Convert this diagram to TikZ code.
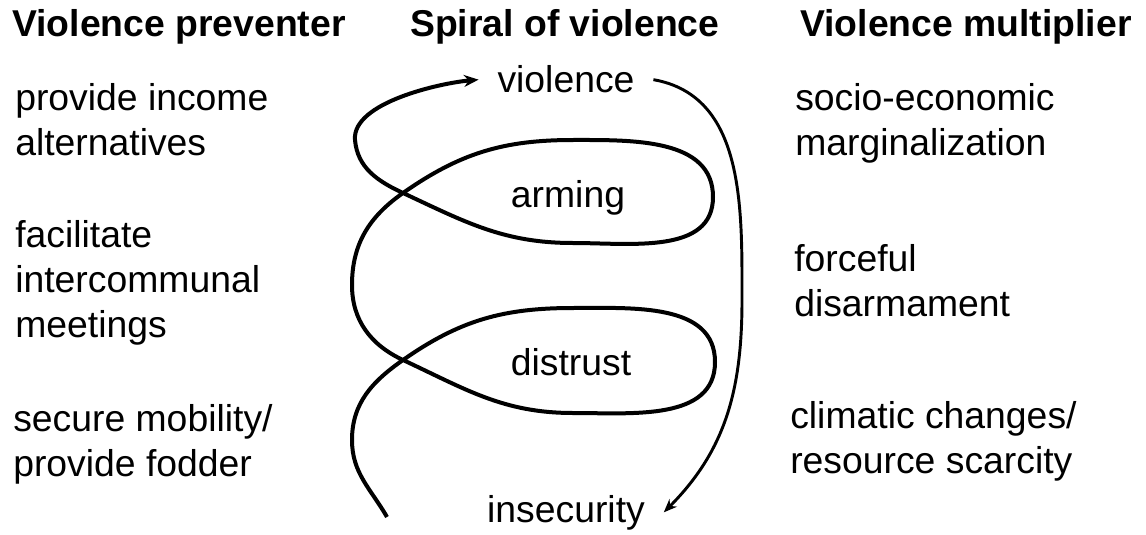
\documentclass[tikz,border=0pt]{standalone}
\usepackage{fontspec}
\setmainfont{Liberation Sans}
\usepackage{tikz}
\usetikzlibrary{arrows.meta, positioning}

\tikzset{
  txt/.style={anchor=base west, align=left, inner sep=0pt, font=\fontsize{28}{33.75}\selectfont},
  head/.style={txt, font=\fontsize{28}{33.75}\selectfont\bfseries},
  stage/.style={anchor=base, inner ysep=0pt, inner xsep=14pt, font=\fontsize{28}{33.75}\selectfont},
  spiral/.style={line width=3pt, -{Stealth[length=11pt,width=9pt]}},
  feed/.style={line width=2.2pt, -{Stealth[length=10pt,width=8pt]}}
}

\begin{document}
\begin{tikzpicture}[x=0.75pt,y=0.75pt]
	\useasboundingbox (0,0) rectangle (1146,-535);
	% column heads
	\node[head] (hprev) at (12,-37)  {Violence preventer};
	\node[head] (hspir) at (410,-37) {Spiral of violence};
	\node[head] (hmult) at (800,-37) {Violence multiplier};
	% preventers (placed at the baseline of their last line)
	\node[txt] (income)   at (15,-155) {provide income\\alternatives};
	\node[txt] (meetings) at (15,-337) {facilitate\\intercommunal\\meetings};
	\node[txt] (mobility) at (13,-476) {secure mobility/\\provide fodder};
	% multipliers
	\node[txt] (margin)  at (795,-155) {socio-economic\\marginalization};
	\node[txt] (disarm)  at (794,-316) {forceful\\disarmament};
	\node[txt] (climate) at (790,-473) {climatic changes/\\resource scarcity};
	% spiral stages
	\node[stage] (violence)   at (566,-93)  {violence};
	\node[stage] (arming)     at (568,-207) {arming};
	\node[stage] (distrust)   at (571,-375) {distrust};
	\node[stage] (insecurity) at (566,-522) {insecurity};
	% the spiral, from the bottom up
	\coordinate (sbot) at (387,-517);
	\coordinate (cro1) at (403,-360);
	\coordinate (cro2) at (403,-193);
	\draw[spiral] (sbot) to[out=120,in=-90] (352,-440) to[out=90,in=215] (cro1)
		to[out=35,in=180] (573,-308) to[out=0,in=90] (715,-362)
		to[out=-90,in=0] (573,-413) to[out=180,in=-25] (cro1)
		to[out=155,in=-90] (352,-285) to[out=90,in=215] (cro2)
		to[out=35,in=180] (573,-140) to[out=0,in=90] (713,-197)
		to[out=-90,in=0] (573,-243) to[out=180,in=-25] (cro2)
		to[out=155,in=-85] (355,-140) to[out=95,in=185,looseness=0.7] (violence.west);
	% feedback
	\draw[feed] (violence.east) to[out=-10,in=90] (742,-300) to[out=-90,in=45] (insecurity.east);
\end{tikzpicture}
\end{document}
